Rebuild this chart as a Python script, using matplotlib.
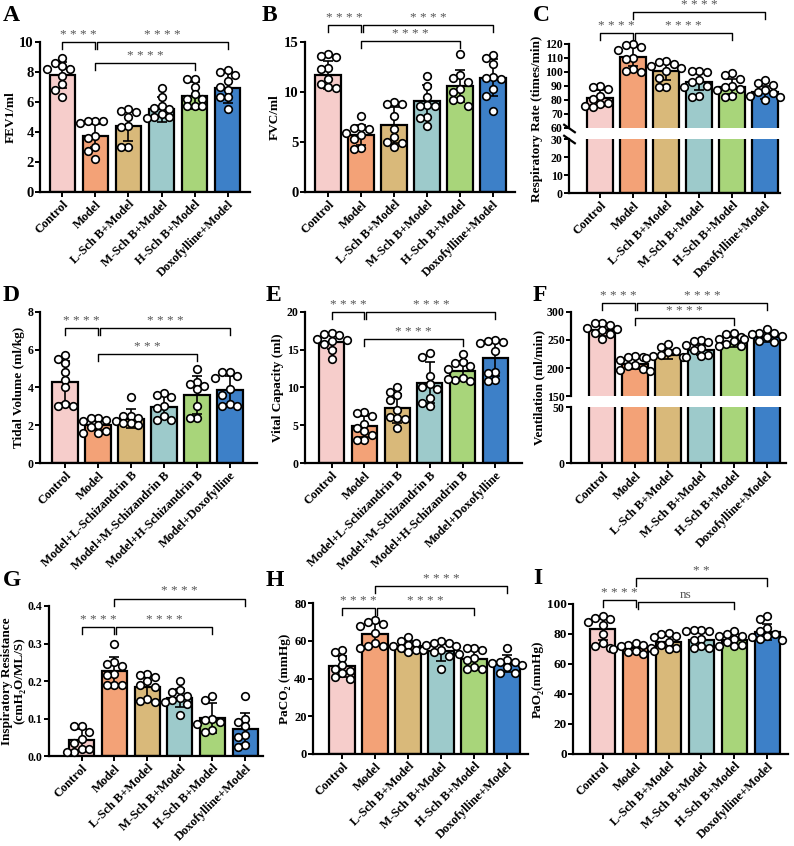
import numpy as np
import matplotlib
matplotlib.use('Agg')
import matplotlib.pyplot as plt

plt.rcParams['font.family'] = ['Liberation Serif', 'DejaVu Serif']
plt.rcParams['font.weight'] = 'bold'
plt.rcParams['axes.labelweight'] = 'bold'

# groups
labels_short = ['Control', 'Model', 'L-Sch B+Model', 'M-Sch B+Model', 'H-Sch B+Model', 'Doxofylline+Model']
labels_long = ['Control', 'Model', 'Model+L-Schizandrin B', 'Model+M-Schizandrin B',
               'Model+H-Schizandrin B', 'Model+Doxofylline']
colors = ['#F6CDCB', '#F3A277', '#D9B97A', '#9DCACB', '#A8D57A', '#3D80C8']

# A - FEV1
fev1_mean = [7.8, 3.75, 4.4, 5.5, 6.4, 6.95]
fev1_sd = [0.87, 0.75, 1.0, 0.85, 0.9, 1.05]
fev1_pts = [[8.9, 8.6, 8.4, 8.2, 8.2, 7.7, 7.2, 6.8, 6.3],
            [4.7, 4.7, 4.7, 4.6, 3.7, 3.6, 3.0, 2.7, 2.2],
            [5.5, 5.4, 5.3, 5.0, 4.4, 4.3, 3.0, 3.0],
            [6.9, 6.3, 5.7, 5.6, 5.5, 5.2, 5.0, 5.0, 4.9],
            [7.5, 7.5, 7.0, 6.5, 6.2, 6.2, 5.7, 5.7, 5.7],
            [8.1, 8.0, 7.8, 7.4, 7.0, 6.8, 6.3, 6.3, 5.5]]

# B - FVC
fvc_mean = [11.7, 5.7, 6.7, 9.05, 10.55, 11.4]
fvc_sd = [1.4, 1.0, 1.8, 1.6, 1.6, 1.85]
fvc_pts = [[13.8, 13.6, 13.5, 12.4, 12.3, 11.3, 10.8, 10.5, 10.4],
           [7.6, 6.5, 6.4, 6.3, 5.9, 5.7, 5.3, 4.4, 4.3],
           [9.0, 8.8, 8.8, 7.6, 6.3, 5.5, 5.0, 4.9, 4.5],
           [11.6, 10.6, 9.5, 8.7, 8.6, 8.6, 7.5, 7.4, 6.6],
           [13.8, 11.7, 11.4, 11.0, 10.3, 10.0, 9.3, 9.2, 8.6],
           [13.7, 13.4, 12.8, 11.5, 11.4, 11.3, 10.3, 9.6, 8.1]]

# C - respiratory rate
rr_mean = [81.5, 111, 100.5, 93, 89.5, 85.5]
rr_sd = [5.5, 7, 6.5, 6, 5.5, 4.5]
rr_pts = [[90, 89, 88, 83, 81, 78, 77, 76, 75],
          [120, 119, 118, 116, 110, 109, 102, 101, 100],
          [108, 107, 106, 104, 103, 101, 96, 89, 89],
          [101, 101, 100, 94, 93, 90, 89, 83, 82],
          [99, 98, 95, 90, 89, 88, 87, 83, 82],
          [94, 92, 91, 87, 86, 85, 83, 82, 80]]

# D - tidal volume
tv_mean = [4.3, 2.0, 2.35, 2.95, 3.6, 3.87]
tv_sd = [1.1, 0.25, 0.5, 0.6, 1.0, 0.75]
tv_pts = [[5.7, 5.5, 5.3, 4.8, 4.4, 4.0, 3.1, 3.0, 3.0],
          [2.4, 2.4, 2.3, 2.2, 2.0, 1.9, 1.7, 1.6, 1.6],
          [3.5, 2.5, 2.5, 2.4, 2.2, 2.1, 2.1, 2.0],
          [3.7, 3.6, 3.5, 3.0, 2.9, 2.5, 2.3, 2.3],
          [5.0, 4.3, 4.2, 4.1, 3.9, 3.0, 2.4, 2.4],
          [4.8, 4.8, 4.6, 4.5, 3.9, 3.6, 3.1, 3.0, 3.0]]

# E - vital capacity
vc_mean = [16.05, 4.85, 7.25, 10.65, 12.25, 13.85]
vc_sd = [1.0, 1.4, 1.9, 2.7, 1.3, 2.3]
vc_pts = [[17.2, 17.1, 17.0, 16.4, 16.3, 16.1, 15.7, 15.0, 13.8],
          [6.8, 6.6, 6.2, 5.2, 4.6, 4.2, 3.7, 3.0, 3.0],
          [10.1, 9.4, 9.0, 8.3, 7.0, 6.1, 5.9, 5.8, 4.6],
          [14.6, 14.1, 11.5, 10.5, 10.1, 9.8, 8.6, 7.9, 7.6],
          [14.5, 13.4, 13.2, 12.9, 12.5, 11.2, 11.0, 10.9, 11.1],
          [16.3, 16.1, 16.0, 15.9, 14.8, 12.1, 11.9, 11.0, 10.8]]

# F - ventilation
vent_mean = [268, 208, 224, 232, 247, 255]
vent_sd = [10, 10, 8, 9, 9, 8]
vent_pts = [[281, 280, 277, 272, 270, 268, 262, 260, 252],
            [221, 220, 219, 214, 206, 204, 199, 196, 195],
            [242, 238, 230, 228, 224, 221, 220, 218],
            [250, 248, 247, 241, 236, 232, 224, 222, 220],
            [263, 261, 255, 252, 248, 242, 240, 239],
            [269, 263, 262, 260, 257, 255, 251, 248, 247]]

# G - inspiratory resistance
ir_mean = [0.044, 0.228, 0.183, 0.155, 0.102, 0.073]
ir_sd = [0.028, 0.036, 0.033, 0.025, 0.04, 0.042]
ir_pts = [[0.08, 0.08, 0.065, 0.045, 0.035, 0.02, 0.02, 0.01, 0.01],
          [0.30, 0.25, 0.245, 0.24, 0.22, 0.215, 0.19, 0.19, 0.19],
          [0.22, 0.215, 0.21, 0.20, 0.19, 0.185, 0.153, 0.146, 0.145],
          [0.20, 0.175, 0.17, 0.16, 0.155, 0.15, 0.145, 0.14, 0.11],
          [0.16, 0.15, 0.10, 0.095, 0.09, 0.085, 0.07, 0.065],
          [0.16, 0.10, 0.09, 0.08, 0.055, 0.05, 0.03, 0.025]]

# H - PaCO2
paco2_mean = [46.5, 63.5, 57, 54.5, 50.5, 47.8]
paco2_sd = [5.5, 6, 2.8, 5, 4.5, 4.5]
paco2_pts = [[55, 54, 51, 47, 45, 44, 43, 41, 40],
             [71, 70, 69, 68, 64, 59, 57, 57, 56],
             [62, 60, 59, 58, 57, 56, 55, 55, 54],
             [60, 59, 59, 58, 57, 55, 54, 52, 45],
             [56, 56, 55, 53, 51, 50, 46, 45, 45],
             [56, 50, 49, 49, 48, 47, 46, 43, 43]]

# I - PaO2
pao2_mean = [83.3, 70.4, 74.5, 76.3, 76.3, 81.5]
pao2_sd = [7, 2.3, 4, 5, 3.5, 5.5]
pao2_pts = [[92, 91, 90, 88, 86, 80, 74, 72, 71],
            [74, 73, 73, 72, 71, 70, 69, 68, 67],
            [81, 80, 79, 78, 75, 73, 71, 70, 69],
            [83, 83, 82, 82, 77, 76, 72, 71, 71],
            [82, 80, 79, 79, 77, 75, 73, 72, 72],
            [92, 90, 84, 82, 80, 79, 78, 77, 76]]

W, H = 794, 846
fig = plt.figure(figsize=(W / 100, H / 100), dpi=100)
SP = 33.0  # pixels between bar centres


def add_ax(l, t, r, b, lp, rp):
    ax = fig.add_axes([l / W, 1 - b / H, (r - l) / W, (b - t) / H])
    ax.set_xlim(-lp / SP, 5 + rp / SP)
    return ax


def style(ax, tsize, show_x=True, labels=None):
    for s in ['top', 'right']:
        ax.spines[s].set_visible(False)
    ax.spines['left'].set_linewidth(1.6)
    ax.spines['bottom'].set_linewidth(1.6)
    ax.tick_params(direction='out', length=3.5, width=1.4, pad=1)
    ax.tick_params(axis='y', labelsize=tsize)
    ax.set_xticks(range(6))
    if show_x:
        ax.set_xticklabels(labels, rotation=45, ha='right', rotation_mode='anchor', fontsize=9)
    else:
        ax.spines['bottom'].set_visible(False)
        ax.tick_params(axis='x', length=0, labelbottom=False)


def swarm(ax, pts, i):
    ys = np.array(pts, dtype=float)
    disp = ax.transData.transform(np.column_stack([np.full(len(ys), i), ys]))
    px_per_x = ax.transData.transform((1, 0))[0] - ax.transData.transform((0, 0))[0]
    d = 7.5
    placed = []
    offs = []
    for yp in disp[:, 1]:
        for k in [0, -1, 1, -2, 2, -3, 3]:
            xp = k * d
            if all((xp - a) ** 2 + (yp - b) ** 2 >= (d * 0.95) ** 2 for a, b in placed):
                break
        placed.append((xp, yp))
        offs.append(xp / px_per_x)
    ax.scatter(i + np.array(offs), ys, s=30, facecolor='white', edgecolor='black',
               linewidth=1.2, zorder=4, clip_on=False)


def draw(ax, mean, sd=None, pts=None):
    x = np.arange(6)
    ax.bar(x, mean, width=0.76, color=colors, edgecolor='black', linewidth=1.6, zorder=2)
    if sd is not None:
        ax.errorbar(x, mean, yerr=sd, fmt='none', ecolor='black', elinewidth=1.2,
                    capsize=3.5, capthick=1.2, zorder=3)
    if pts is not None:
        for i in range(6):
            swarm(ax, pts[i], i)


def bracket(ax, i, j, y, label):
    y0, y1 = ax.get_ylim()
    per_px = (y1 - y0) / ax.bbox.height
    ax.plot([i, i, j, j], [y - 7 * per_px, y, y, y - 7 * per_px], color='black', lw=1.0,
            clip_on=False, zorder=5)
    txt = ' '.join(label) if label.startswith('*') else label
    ax.text((i + j) / 2, y + 1 * per_px, txt, ha='center', va='bottom', fontsize=9.5,
            color='#555555', fontweight='normal', clip_on=False)


def letter(x, y, s):
    fig.text(x / W, 1 - y / H, s, fontsize=17, fontweight='bold', ha='left', va='top')


def simple_panel(rect, pads, mean, sd, pts, ylim, yticks, tsize, ylabel, labels, brackets, tickfmt=None):
    ax = add_ax(*rect, *pads)
    ax.set_ylim(*ylim)
    ax.set_yticks(yticks)
    if tickfmt:
        ax.set_yticklabels([tickfmt % v for v in yticks])
    style(ax, tsize, True, labels)
    draw(ax, mean, sd, pts)
    ax.set_ylabel(ylabel, fontsize=9.5, labelpad=2, linespacing=1.0)
    for b in brackets:
        bracket(ax, *b)
    return ax


def broken_panel(rect_top, rect_bot, pads, mean, sd, pts, ylim_top, ticks_top, ylim_bot, ticks_bot,
                 tsize, ylabel, label_x, labels, brackets, slashes):
    at = add_ax(*rect_top, *pads)
    ab = add_ax(*rect_bot, *pads)
    at.set_ylim(*ylim_top)
    at.set_yticks(ticks_top)
    ab.set_ylim(*ylim_bot)
    ab.set_yticks(ticks_bot)
    style(at, tsize, False)
    style(ab, tsize, True, labels)
    draw(at, mean, sd, pts)
    draw(ab, mean)
    for b in brackets:
        bracket(at, *b)
    if slashes:
        kw = dict(marker=[(-1, 0.7), (1, -0.7)], markersize=9, linestyle='none',
                  color='k', mec='k', mew=1.6, clip_on=False)
        at.plot([0], [0], transform=at.transAxes, **kw)
        ab.plot([0], [1], transform=ab.transAxes, **kw)
    yc = (rect_top[1] + rect_bot[3]) / 2
    fig.text(label_x / W, 1 - yc / H, ylabel, rotation=90, ha='center', va='center',
             fontsize=9.5, fontweight='bold')


# row 1
simple_panel((40, 42, 250, 192), (22, 22), fev1_mean, fev1_sd, fev1_pts, (0, 10), [0, 2, 4, 6, 8, 10], 10.5,
             'FEV1/ml', labels_short,
             [(0, 1, 10.0, '****'), (1.06, 5, 10.0, '****'), (1, 4, 8.6, '****')])
simple_panel((305, 42, 515, 192), (23, 22), fvc_mean, fvc_sd, fvc_pts, (0, 15), [0, 5, 10, 15], 10.5,
             'FVC/ml', labels_short,
             [(0, 1, 16.7, '****'), (1.06, 5, 16.7, '****'), (1, 4, 15.1, '****')])
broken_panel((569, 44, 780, 128), (569, 139, 780, 193), (31, 15), rr_mean, rr_sd, rr_pts,
             (60, 120), [60, 70, 80, 90, 100, 110, 120], (0, 30), [0, 10, 20, 30], 8.5,
             'Respiratory Rate (times/min)', 537, labels_short,
             [(0, 1, 127.6, '****'), (1.06, 4, 127.6, '****'), (1, 5, 142.6, '****')], True)

# row 2
simple_panel((40, 312, 257, 463), (25, 27), tv_mean, tv_sd, tv_pts, (0, 8), [0, 2, 4, 6, 8], 8.5,
             'Tidal Volume (ml/kg)', labels_long,
             [(0, 1, 7.15, '****'), (1.06, 5, 7.15, '****'), (1, 4, 5.78, '***')])
simple_panel((305, 312, 522, 463), (27, 27), vc_mean, vc_sd, vc_pts, (0, 20), [0, 5, 10, 15, 20], 8.5,
             'Vital Capacity (ml)', labels_long,
             [(0, 1, 20.0, '****'), (1.06, 5, 20.0, '****'), (1, 4, 16.4, '****')])
broken_panel((571, 312, 786, 396), (571, 407, 786, 463), (31, 19), vent_mean, vent_sd, vent_pts,
             (150, 300), [150, 200, 250, 300], (0, 50), [0, 50], 8.5,
             'Ventilation (ml/min)', 539, labels_short,
             [(0, 1, 316, '****'), (1.06, 5, 316, '****'), (1, 4, 290, '****')], False)

# row 3
simple_panel((49, 606, 263, 756), (33, 18), ir_mean, ir_sd, ir_pts, (0, 0.4), [0, 0.1, 0.2, 0.3, 0.4], 8.5,
             'Inspiratory Resistance\n(cmH\u2082O/ML/S)', labels_short,
             [(0, 1, 0.344, '****'), (1.06, 4, 0.344, '****'), (1, 5, 0.42, '****')], '%.1f')
simple_panel((313, 603, 528, 754), (29, 21), paco2_mean, paco2_sd, paco2_pts, (0, 80), [0, 20, 40, 60, 80], 9,
             'PaCO\u2082 (mmHg)', labels_short,
             [(0, 1, 77.3, '****'), (1.06, 4, 77.3, '****'), (1, 5, 89, '****')])
simple_panel((573, 604, 788, 754), (30, 21), pao2_mean, pao2_sd, pao2_pts, (0, 100), [0, 20, 40, 60, 80, 100], 9.5,
             'PaO\u2082(mmHg)', labels_short,
             [(0, 1, 102.7, '****'), (1.06, 4, 101.6, 'ns'), (1, 5, 117, '**')])

letter(3, 5, 'A')
letter(262, 5, 'B')
letter(533, 5, 'C')
letter(3, 285, 'D')
letter(266, 285, 'E')
letter(533, 285, 'F')
letter(3, 570, 'G')
letter(266, 570, 'H')
letter(533, 568, 'I')

fig.savefig('out.png', dpi=100)
